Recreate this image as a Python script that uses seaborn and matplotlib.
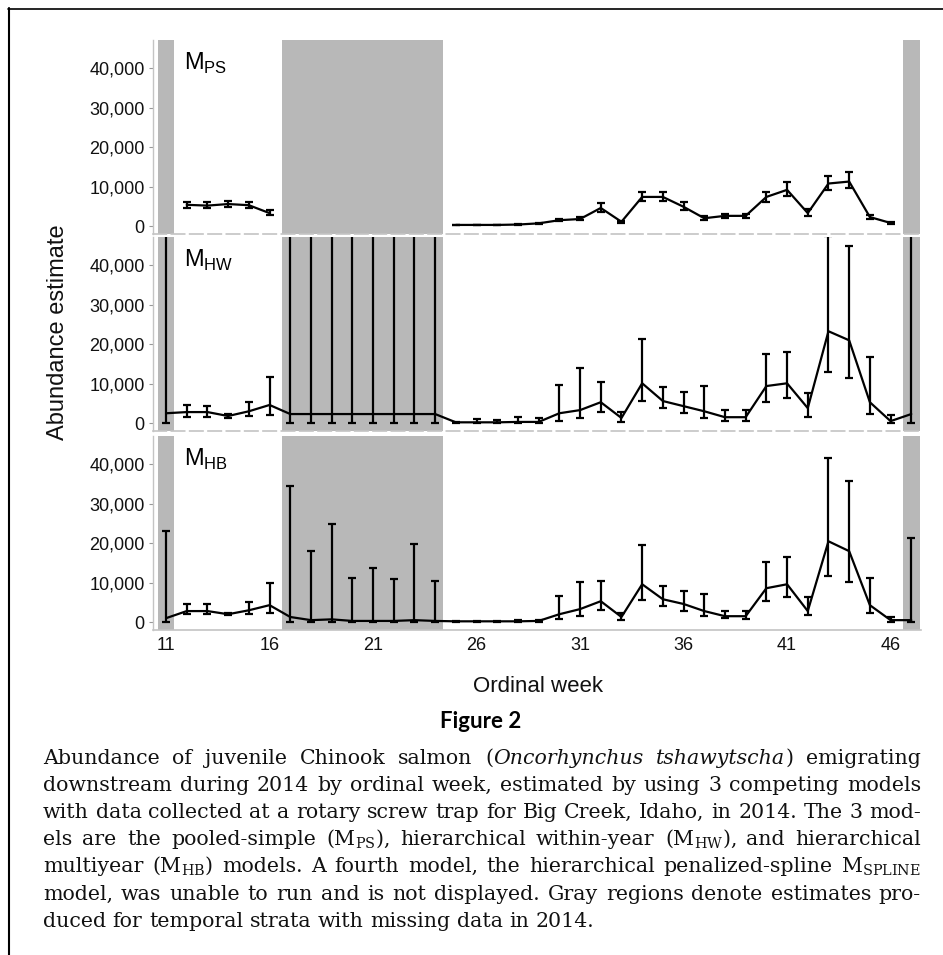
import numpy as np
import pandas as pd
import matplotlib
matplotlib.use("Agg")
import matplotlib.pyplot as plt
import seaborn as sns
from matplotlib.lines import Line2D

nan = np.nan

# ---------------- data ----------------
weeks = list(range(11, 48))

ps_est = [nan, 5400, 5200, 5600, 5300, 3300,
          nan, nan, nan, nan, nan, nan, nan, nan,
          300, 300, 300, 400, 700, 1500, 1800, 4600, 1100, 7400, 7400, 4900,
          2000, 2600, 2600, 7400, 9200, 3300, 10800, 11300, 2300, 800, nan]
ps_lo = [nan, 4600, 4500, 4800, 4500, 2700,
         nan, nan, nan, nan, nan, nan, nan, nan,
         200, 200, 200, 250, 500, 1200, 1500, 3500, 800, 6300, 6300, 4000,
         1500, 2100, 2100, 6200, 7700, 2500, 9200, 9700, 1800, 600, nan]
ps_hi = [nan, 6200, 6000, 6400, 6000, 4000,
         nan, nan, nan, nan, nan, nan, nan, nan,
         400, 400, 400, 550, 900, 1800, 2200, 5800, 1400, 8700, 8700, 6000,
         2500, 3000, 3000, 8700, 11300, 4300, 12800, 13800, 2900, 1000, nan]

hw_est = [2500, 2800, 2800, 1800, 3000, 4600,
          2300, 2300, 2300, 2300, 2300, 2300, 2300, 2300,
          200, 200, 200, 300, 300, 2500, 3300, 5300, 1300, 10100, 5600, 4300,
          3000, 1500, 1500, 9400, 10100, 3800, 23300, 21000, 5300, 500, 2300]
hw_lo = [0, 1500, 1500, 1300, 1800, 2000,
         0, 0, 0, 0, 0, 0, 0, 0,
         100, 100, 100, 100, 100, 500, 1300, 2800, 300, 5600, 3800, 2500,
         1300, 500, 500, 5300, 6300, 1500, 12900, 11400, 2300, 100, 0]
hw_hi = [55000, 4600, 4400, 2300, 5300, 11600,
         55000, 55000, 55000, 55000, 55000, 55000, 55000, 55000,
         400, 1000, 900, 1500, 1300, 9600, 13900, 10400, 2800, 21300, 9100, 7800,
         9400, 3300, 3300, 17500, 18000, 7600, 47500, 44800, 16700, 2000, 55000]

hb_est = [1000, 2800, 2800, 2000, 3000, 4300,
          1300, 500, 700, 300, 300, 300, 500, 300,
          200, 200, 200, 200, 300, 2000, 3300, 5300, 1300, 9600, 5800, 4600,
          2800, 1500, 1500, 8600, 9600, 2800, 20500, 18000, 4300, 500, 500]
hb_lo = [0, 2000, 2000, 1700, 2000, 2300,
         0, 0, 0, 0, 0, 0, 0, 0,
         100, 100, 100, 100, 100, 700, 1500, 3000, 500, 5600, 4000, 2800,
         1500, 1000, 800, 5300, 6300, 1800, 11600, 10100, 2300, 0, 0]
hb_hi = [23000, 4600, 4600, 2300, 5100, 9900,
         34400, 18000, 24800, 11300, 13700, 10900, 19700, 10400,
         300, 400, 400, 500, 500, 6600, 10100, 10400, 2300, 19500, 9100, 7800,
         7100, 2800, 2800, 15200, 16400, 6300, 41500, 35700, 11100, 1300, 21300]

missing_groups = [(11, 11), (17, 24), (47, 47)]
model_labels = [r"M$_\mathregular{PS}$", r"M$_\mathregular{HW}$", r"M$_\mathregular{HB}$"]
yticks = [0, 10000, 20000, 30000, 40000]
ytick_labels = ["0", "10,000", "20,000", "30,000", "40,000"]
xticks = [11, 16, 21, 26, 31, 36, 41, 46]
xtick_labels = ["11", "16", "21", "26", "31", "36", "41", "46"]

caption_lines = [
    [("Abundance", "n"), ("of", "n"), ("juvenile", "n"), ("Chinook", "n"), ("salmon", "n"),
     ("(", "n+"), ("Oncorhynchus", "i"), ("tshawytscha", "i+"), (")", "n"), ("emigrating", "n")],
    "downstream during 2014 by ordinal week, estimated by using 3 competing models",
    "with data collected at a rotary screw trap for Big Creek, Idaho, in 2014. The 3 mod-",
    r"els are the pooled-simple (M$_\mathregular{PS}$), hierarchical within-year (M$_\mathregular{HW}$), and hierarchical",
    r"multiyear (M$_\mathregular{HB}$) models. A fourth model, the hierarchical penalized-spline M$_\mathregular{SPLINE}$",
    "model, was unable to run and is not displayed. Gray regions denote estimates pro-",
    "duced for temporal strata with missing data in 2014.",
]

# ---------------- style ----------------
sns.set_theme(style="white")
plt.rcParams["font.family"] = ["Liberation Sans", "DejaVu Sans"]

W, H = 943, 955
fig = plt.figure(figsize=(W / 100, H / 100), dpi=100)

def fx(px):
    return px / W

def fy(py):
    return 1 - py / H

left_px, right_px = 153, 921
panel_h = 194
bottoms = [234, 431, 630]
ylim = (-2000, 47200)
xlim = (10.37, 47.47)

series = [(ps_est, ps_lo, ps_hi), (hw_est, hw_lo, hw_hi), (hb_est, hb_lo, hb_hi)]
axes = []
for i, (est, lo, hi) in enumerate(series):
    b = bottoms[i]
    ax = fig.add_axes([fx(left_px), fy(b), fx(right_px - left_px), panel_h / H])
    axes.append(ax)
    est_a = np.array(est, dtype=float)
    lo_a = np.array(lo, dtype=float)
    hi_a = np.array(hi, dtype=float)
    wk = np.array(weeks)
    seg = np.cumsum(np.isnan(est_a))
    df = pd.DataFrame({"week": wk, "est": est_a, "seg": seg}).dropna()
    for g0, g1 in missing_groups:
        ax.axvspan(g0 - 0.4, g1 + 0.4, color="#b8b8b8", lw=0, zorder=0)
    ok = ~np.isnan(est_a)
    ax.errorbar(wk[ok], est_a[ok],
                yerr=[est_a[ok] - lo_a[ok], hi_a[ok] - est_a[ok]],
                fmt="none", ecolor="black", elinewidth=1.6, capsize=3.2,
                capthick=1.6, zorder=3)
    sns.lineplot(data=df, x="week", y="est", units="seg", estimator=None,
                 color="black", lw=1.6, ax=ax, zorder=4, legend=False)
    ax.set_xlim(*xlim)
    ax.set_ylim(*ylim)
    ax.set_yticks(yticks)
    ax.set_yticklabels(ytick_labels, fontsize=13, color="#111111")
    ax.set_xticks(xticks)
    if i == 2:
        ax.set_xticklabels(xtick_labels, fontsize=13, color="#111111")
    else:
        ax.set_xticklabels([])
    ax.tick_params(axis="y", length=3, width=0.8, color="#999999", pad=3, left=True)
    ax.tick_params(axis="x", length=0, pad=5, bottom=True)
    ax.set_xlabel("")
    ax.set_ylabel("")
    for s in ["top", "right"]:
        ax.spines[s].set_visible(False)
    ax.spines["left"].set_color("#c4c4c4")
    ax.spines["left"].set_linewidth(1.0)
    ax.spines["bottom"].set_color("#c4c4c4")
    ax.spines["bottom"].set_linewidth(1.2)
    if i < 2:
        ax.spines["bottom"].set_linestyle((0, (8, 3)))
    ax.set_facecolor("none")
    ax.text(0.041, 0.88, model_labels[i], transform=ax.transAxes,
            fontsize=17, ha="left", va="center", color="black")

# axis labels
fig.text(fx(58), fy(332), "Abundance estimate", rotation=90, fontsize=17,
         ha="center", va="center", color="#111111")
fig.text(fx(538), fy(687), "Ordinal week", fontsize=16, ha="center", va="center",
         color="#111111")
fig.text(fx(481), fy(721), "Figure 2", fontsize=16, fontweight="bold",
         family=["Lato", "DejaVu Sans"], ha="center", va="center", color="black")

# frame lines
fig.add_artist(Line2D([fx(9), fx(9)], [fy(8), fy(955)], color="black", lw=1.5))
fig.add_artist(Line2D([fx(8), fx(943)], [fy(9), fy(9)], color="black", lw=1.2))

# ---------------- caption: justified word placement ----------------
fig.canvas.draw()
renderer = fig.canvas.get_renderer()
cap_font = ["DejaVu Serif"]
x_left, x_right = 43, 921
base0, spacing = 764, 27.1

def tokens_of(line):
    if isinstance(line, list):
        return line
    return [(w, "n") for w in line.split(" ")]

def measure(s, style, size):
    t = fig.text(0, 0, s, fontsize=size, family=cap_font,
                 style="italic" if style.startswith("i") else "normal")
    w = t.get_window_extent(renderer).width
    t.remove()
    return w

# choose the font size so that the longest line fits with natural spacing
probe = 13.0
sp_probe = measure("a a", "n", probe) - 2 * measure("a", "n", probe)
nat = []
for line in caption_lines[:-1]:
    toks = tokens_of(line)
    tw = sum(measure(t, st, probe) for t, st in toks)
    n_sp = sum(1 for t, st in toks if not st.endswith("+")) - 1
    nat.append(tw + n_sp * sp_probe)
cap_size = min(16.0, probe * (x_right - x_left - 6) / max(nat))
space_w = measure("a a", "n", cap_size) - 2 * measure("a", "n", cap_size)

for li, line in enumerate(caption_lines):
    toks = tokens_of(line)
    groups, cur = [], []
    for t, st in toks:
        cur.append((t, st))
        if not st.endswith("+"):
            groups.append(cur)
            cur = []
    if cur:
        groups.append(cur)
    objs, widths = [], []
    for g in groups:
        gobjs, gw = [], 0
        for t, st in g:
            o = fig.text(0, 0, t, fontsize=cap_size, family=cap_font,
                         style="italic" if st.startswith("i") else "normal",
                         ha="left", va="baseline", color="#111111")
            w = o.get_window_extent(renderer).width
            gobjs.append((o, gw))
            gw += w
        objs.append(gobjs)
        widths.append(gw)
    total = sum(widths)
    if li < len(caption_lines) - 1 and len(groups) > 1:
        gap = (x_right - x_left - total) / (len(groups) - 1)
    else:
        gap = space_w
    x = x_left
    yb = base0 + li * spacing
    for gobjs, gw in zip(objs, widths):
        for o, off in gobjs:
            o.set_position((fx(x + off), fy(yb)))
        x += gw + gap

fig.savefig("out.png", dpi=100)
